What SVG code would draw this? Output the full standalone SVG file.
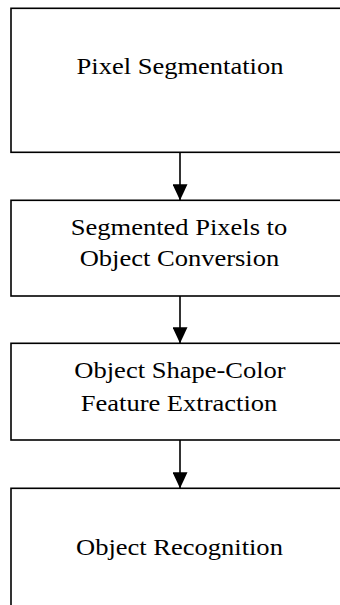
<svg xmlns="http://www.w3.org/2000/svg" width="340" height="605" viewBox="0 0 340 605">
<style>
.box{fill:#fff;stroke:#000;stroke-width:1.6}
.lbl{font-family:"Liberation Serif","Times New Roman",serif;font-size:24px;fill:#000;text-anchor:middle}
.conn{stroke:#000;stroke-width:1.6;fill:none}
</style>
<defs>
<marker id="ah" viewBox="0 0 16 15" refX="16" refY="7.5" markerWidth="16" markerHeight="15" markerUnits="userSpaceOnUse" orient="auto">
<path d="M0,0 L16,7.5 L0,15 Z" fill="#000"/>
</marker>
</defs>
<g id="node1"><rect class="box" x="11" y="8.3" width="338" height="144"/>
<g transform="translate(180,0) scale(1.105,1)"><text class="lbl" x="0" y="74">Pixel Segmentation</text></g></g>
<g id="node2"><rect class="box" x="11" y="200.3" width="338" height="95.7"/>
<g transform="translate(180,0) scale(1.105,1)"><text class="lbl" x="-0.9" y="235">Segmented Pixels to</text>
<text class="lbl" x="-0.5" y="266.5">Object Conversion</text></g></g>
<g id="node3"><rect class="box" x="11" y="343.3" width="338" height="96.7"/>
<g transform="translate(180,0) scale(1.105,1)"><text class="lbl" x="0" y="378.5">Object Shape-Color</text>
<text class="lbl" x="-0.9" y="411">Feature Extraction</text></g></g>
<g id="node4"><rect class="box" x="11" y="488.3" width="338" height="130"/>
<g transform="translate(180,0) scale(1.105,1)"><text class="lbl" x="-0.5" y="555">Object Recognition</text></g></g>
<g id="connectors">
<path class="conn" d="M180,152.3 V200.3" marker-end="url(#ah)"/>
<path class="conn" d="M180,296 V343.3" marker-end="url(#ah)"/>
<path class="conn" d="M180,440 V488.3" marker-end="url(#ah)"/>
</g>
</svg>
